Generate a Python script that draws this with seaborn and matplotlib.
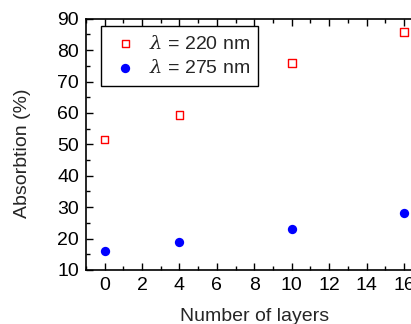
import pandas as pd
import seaborn as sns
from matplotlib import pyplot as plt
from matplotlib.ticker import MultipleLocator

layers = [0, 4, 10, 16]
abs_220 = [51.5, 59.3, 76.0, 85.8]
abs_275 = [16.0, 19.0, 23.0, 28.0]

df_220 = pd.DataFrame({"layers": layers, "absorption": abs_220})
df_275 = pd.DataFrame({"layers": layers, "absorption": abs_275})

sns.set_style("ticks")
plt.rcParams['font.family'] = ['Liberation Sans', 'DejaVu Sans']
plt.rcParams['mathtext.fontset'] = 'dejavuserif'

fs = 14

fig = plt.figure(figsize=(4.11, 3.24), dpi=100)
# axes run past the right edge of the picture, as in the reference
ax = fig.add_axes([0.209, 0.167, 0.8197, 0.775])

sns.scatterplot(data=df_220, x="layers", y="absorption", ax=ax, marker="s", s=30,
                facecolor="none", edgecolor="red", linewidth=1.0,
                label=r"$\lambda$ = 220 nm", clip_on=False)
sns.scatterplot(data=df_275, x="layers", y="absorption", ax=ax, marker="o", s=45,
                color="blue", edgecolor="blue", linewidth=0,
                label=r"$\lambda$ = 275 nm", clip_on=False)

ax.set_xlim(-1, 17)
ax.set_ylim(10, 90)
ax.xaxis.set_major_locator(MultipleLocator(2))
ax.xaxis.set_minor_locator(MultipleLocator(1))
ax.yaxis.set_major_locator(MultipleLocator(10))
ax.yaxis.set_minor_locator(MultipleLocator(5))
ax.tick_params(which="both", direction="in", top=True, right=True, labelsize=fs, width=1, colors="black")
ax.tick_params(which="major", length=5, pad=5)
ax.tick_params(which="minor", length=3)
for sp in ax.spines.values():
    sp.set_linewidth(1.2)
    sp.set_color("black")

ax.set_xlabel("Number of layers", fontsize=fs, labelpad=10.5)
ax.set_ylabel("Absorbtion (%)", fontsize=fs)
ax.yaxis.set_label_coords(-0.163, 0.465)

leg = ax.legend(loc="upper left", bbox_to_anchor=(0.045, 0.972), borderaxespad=0,
                fontsize=fs, frameon=True, fancybox=False, edgecolor="black", framealpha=1,
                handletextpad=0.4, borderpad=0.45, labelspacing=0.35, handlelength=1.6)
leg.get_frame().set_linewidth(1.0)

fig.savefig("out.png", dpi=100)
